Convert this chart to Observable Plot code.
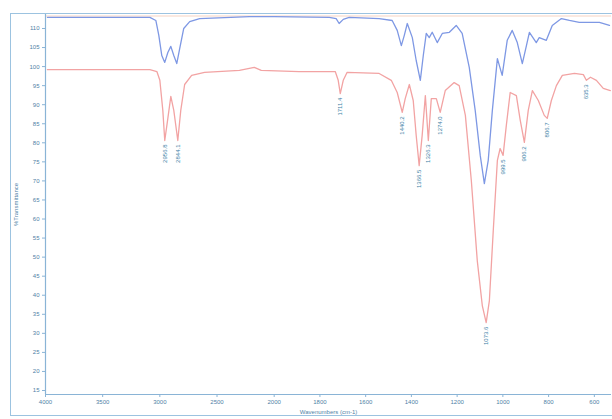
<!DOCTYPE html>
<html>
<head>
<meta charset="utf-8">
<script src="https://cdn.jsdelivr.net/npm/d3@7"></script>
<script src="https://cdn.jsdelivr.net/npm/@observablehq/plot@0.6"></script>
<style>
  html, body { margin: 0; padding: 0; background: #fff; }
  #wrap { position: relative; width: 612px; height: 419px; overflow: hidden; }
  #box { position: absolute; left: 10px; top: 13px; width: 610px; height: 403px;
         border: 1px solid #9cc3e0; border-right: none; box-sizing: border-box; }
  #chart { position: absolute; left: 0; top: 0; }
</style>
</head>
<body>
<div id="wrap"><div id="box"></div><div id="chart"></div></div>
<script>
// X ticks (wavenumbers, cm-1) – the axis is expanded 2x below 2000 cm-1
const xTicks = [4000, 3500, 3000, 2500, 2000, 1800, 1600, 1400, 1200, 1000, 800, 600];
// Y ticks (%T)
const yTicks = [110, 105, 100, 95, 90, 85, 80, 75, 70, 65, 60, 55, 50, 45, 40, 35, 30, 25, 20, 15];

// Upper (blue) spectrum
const blueWn = [3983, 3522, 3087, 3035, 3009, 2983, 2957, 2930, 2904, 2878, 2852, 2826, 2791, 2739, 2652, 2217, 2000,
  1759, 1729, 1716, 1698, 1672, 1541, 1484, 1462, 1444, 1431, 1418, 1396, 1379, 1361, 1348, 1335, 1322, 1309, 1287,
  1265, 1234, 1204, 1178, 1147, 1121, 1099, 1081, 1064, 1046, 1024, 1003, 981, 959, 937, 915, 897, 884, 854, 841,
  810, 784, 744, 709, 666, 609, 578, 534];
const blueT = [112.9, 112.9, 112.9, 112.1, 108.2, 102.9, 101.1, 103.7, 105.3, 102.9, 100.8, 104.8, 110.0, 111.8, 112.6, 113.1, 113.1,
  112.9, 112.6, 111.3, 112.4, 112.9, 112.6, 112.1, 109.5, 105.5, 108.2, 111.3, 107.6, 101.6, 96.4, 102.9, 108.7, 107.6, 109.0, 106.3,
  108.7, 109.0, 110.8, 108.7, 99.8, 88.5, 76.7, 69.3, 75.4, 88.5, 102.1, 97.7, 106.9, 109.5, 106.3, 100.8, 105.5, 109.0, 106.3, 107.6,
  106.9, 110.8, 112.6, 112.1, 111.6, 111.6, 111.6, 110.8];

// Lower (red) spectrum
const redWn = [3983, 3522, 3087, 3026, 3000, 2974, 2957, 2930, 2904, 2878, 2843, 2817, 2783, 2722, 2609, 2304, 2174, 2113,
  1891, 1733, 1720, 1711, 1698, 1681, 1541, 1488, 1462, 1440, 1427, 1409, 1392, 1379, 1366, 1353, 1339, 1326, 1313, 1291,
  1274, 1252, 1213, 1191, 1164, 1138, 1112, 1090, 1073, 1059, 1042, 1024, 1012, 999, 985, 968, 941, 924, 906, 889, 871,
  845, 819, 806, 788, 766, 740, 687, 648, 635, 617, 591, 561, 530];
const redT = [99.2, 99.2, 99.2, 98.7, 96.4, 88.5, 80.6, 86.4, 92.2, 88.5, 80.6, 88.5, 95.3, 97.7, 98.5, 99.0, 99.8, 99.0,
  98.7, 98.7, 96.4, 92.9, 96.4, 98.5, 98.2, 96.4, 93.2, 88.0, 91.6, 95.3, 91.1, 81.9, 74.0, 81.9, 92.4, 80.6, 91.6, 91.6,
  88.0, 93.7, 95.8, 95.0, 87.2, 70.1, 49.1, 37.3, 32.8, 38.6, 57.0, 75.4, 78.5, 76.7, 84.5, 93.2, 92.4, 85.9, 80.1, 88.5, 93.7,
  91.1, 87.2, 86.4, 91.1, 95.0, 97.7, 98.2, 97.9, 96.4, 97.2, 96.4, 94.3, 93.7];

// Peak annotations on the red spectrum
const peakWn = [2957, 2843, 1711, 1440, 1366, 1326, 1274, 1073, 999, 906, 806, 635];
const peakT = [80.6, 80.6, 92.9, 88.0, 74.0, 80.6, 88.0, 32.8, 76.7, 80.1, 86.4, 96.4];
const peakLabels = ["2956.8", "2844.1", "1711.4", "1440.2", "1366.5", "1326.3", "1274.0", "1073.6", "999.5", "906.2", "806.7", "635.3"];

// Axis break: below 2000 cm-1 the axis is drawn at double scale (instrument convention)
const warp = w => (w >= 2000 ? w : 2000 - (2000 - w) * 2);
const unwarp = v => (v >= 2000 ? v : 2000 - (2000 - v) / 2);

const blue = blueWn.map((w, i) => ({w, t: blueT[i]}));
const red = redWn.map((w, i) => ({w, t: redT[i]}));
const peaks = peakWn.map((w, i) => ({w, t: peakT[i], label: peakLabels[i]}));

const axisCol = "#8ab4d6";
const textCol = "#4f7fa6";

const chart = Plot.plot({
  width: 612,
  height: 419,
  marginLeft: 45,
  marginRight: 1,
  marginTop: 14,
  marginBottom: 25,
  style: {background: "transparent", fontFamily: "Liberation Sans, Arial, sans-serif", fontSize: "6px", overflow: "visible"},
  x: {domain: [warp(4000), warp(525)]},
  y: {domain: [13.95, 113.67]},
  marks: [
    Plot.ruleY([113.67], {stroke: "#f6d3c2", strokeWidth: 1, dy: 1.5}),
    Plot.ruleX([warp(4000)], {stroke: axisCol, strokeWidth: 1.2}),
    Plot.ruleY([13.95], {stroke: axisCol, strokeWidth: 1.2}),
    Plot.axisX({ticks: xTicks.map(warp), tickFormat: v => String(Math.round(unwarp(v))), tickSize: 3, tickPadding: 2, stroke: axisCol, fill: textCol, fontSize: 6, label: null}),
    Plot.axisY({ticks: yTicks, tickFormat: d => String(d), tickSize: 3, tickPadding: 3, stroke: axisCol, fill: textCol, fontSize: 6, label: null}),
    Plot.line(blue, {x: d => warp(d.w), y: "t", stroke: "#7e98e4", strokeWidth: 1.3}),
    Plot.line(red, {x: d => warp(d.w), y: "t", stroke: "#f2a3a3", strokeWidth: 1.3}),
    Plot.text(peaks, {x: d => warp(d.w), y: "t", text: "label", rotate: -90, textAnchor: "end", dy: 4, fontSize: 6, fill: "#3d7fa6"}),
    Plot.text(["%Transmittance"], {frameAnchor: "left", dx: -29, rotate: -90, textAnchor: "middle", fontSize: 6, fill: textCol}),
    Plot.text(["Wavenumbers (cm-1)"], {frameAnchor: "bottom", dy: 18, lineAnchor: "middle", textAnchor: "middle", fontSize: 6, fill: textCol})
  ]
});
document.getElementById("chart").appendChild(chart);
</script>
</body>
</html>
